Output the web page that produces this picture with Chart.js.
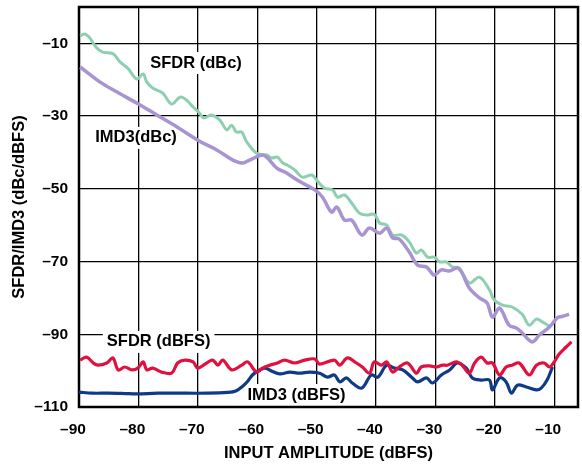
<!DOCTYPE html>
<html>
<head>
<meta charset="utf-8">
<script src="https://cdn.jsdelivr.net/npm/chart.js@4.4.0/dist/chart.umd.min.js"></script>
<style>
html, body { margin:0; padding:0; background:#fff; }
</style>
</head>
<body>
<canvas id="myChart" width="582" height="468"></canvas>
<script>
// axis ticks
const xTicks = [-90, -80, -70, -60, -50, -40, -30, -20, -10]
const yTicks = [-110, -90, -70, -50, -30, -10]

// SFDR (dBc)
const sfdrDbcX = [-89.8, -89.0, -88.2, -87.0, -86.0, -84.5, -84.0, -83.1, -81.8, -80.3,
  -79.2, -78.6, -77.6, -75.9, -74.4, -73.0, -71.9, -70.8, -69.7, -69.0,
  -67.7, -66.3, -65.1, -64.3, -63.5, -62.6, -61.8, -60.1, -58.4, -57.6,
  -56.6, -55.7, -54.9, -53.7, -52.4, -50.8, -50.0, -48.7, -47.3, -46.5,
  -45.3, -44.1, -42.8, -41.6, -40.3, -39.4, -38.2, -37.2, -35.7, -34.4,
  -33.2, -32.4, -31.3, -30.2, -29.3, -28.2, -27.1, -26.0, -24.3, -22.6,
  -20.9, -20.1, -18.7, -17.1, -15.4, -14.2, -13.0, -12.0, -10.6]
const sfdrDbcY = [-8.0, -7.4, -8.5, -11.3, -12.4, -12.7, -13.2, -15.1, -16.8, -19.8,
  -18.4, -20.6, -22.3, -23.7, -26.7, -24.8, -25.6, -27.5, -29.2, -30.5,
  -29.7, -31.1, -33.8, -32.5, -34.4, -34.4, -37.0, -40.2, -40.7, -41.5,
  -41.3, -42.9, -43.5, -44.8, -46.8, -46.2, -47.6, -49.8, -50.3, -52.3,
  -51.7, -53.9, -56.7, -57.2, -57.0, -59.4, -60.0, -62.7, -62.7, -64.6,
  -67.7, -66.8, -68.8, -68.8, -70.1, -70.1, -71.5, -71.8, -75.9, -74.3,
  -77.8, -80.6, -82.0, -82.5, -84.5, -87.5, -85.8, -86.6, -88.0]

// IMD3 (dBc)
const imdDbcX = [-89.8, -86.5, -83.6, -80.3, -76.9, -73.5, -69.7, -66.8, -64.1, -62.4,
  -61.3, -59.2, -58.4, -56.7, -55.0, -54.0, -52.4, -50.3, -49.0, -47.5,
  -46.6, -45.3, -44.1, -42.4, -41.1, -39.4, -38.2, -37.2, -36.1, -34.4,
  -33.0, -31.5, -30.2, -29.0, -27.7, -26.3, -25.5, -24.3, -22.6, -21.3,
  -20.4, -19.2, -17.6, -16.4, -15.6, -13.7, -12.5, -10.8, -9.5, -8.7, -7.5]
const imdDbcY = [-16.5, -20.6, -23.4, -26.4, -29.7, -33.0, -36.9, -39.3, -42.1, -42.9,
  -42.1, -40.7, -41.3, -44.3, -45.7, -46.8, -48.4, -50.3, -52.3, -56.4,
  -55.0, -58.6, -58.6, -62.7, -60.8, -62.2, -60.8, -63.5, -63.8, -67.4,
  -71.0, -71.5, -73.7, -72.3, -72.6, -71.8, -73.2, -77.3, -80.0, -81.4,
  -85.3, -82.8, -87.5, -88.3, -89.3, -92.1, -90.2, -88.0, -85.5, -85.1, -84.5]

// SFDR (dBFS)
const sfdrDbfsX = [-89.8, -88.7, -87.6, -86.8, -85.3, -84.3, -83.4, -82.3, -81.1, -80.1,
  -79.2, -78.6, -77.6, -76.1, -74.4, -73.4, -72.2, -70.8, -70.0, -68.5,
  -67.5, -66.6, -65.8, -64.3, -62.6, -61.6, -60.1, -59.1, -57.9, -56.6,
  -55.4, -53.7, -52.0, -50.3, -49.5, -47.0, -46.1, -44.8, -43.3, -42.3,
  -41.1, -40.3, -39.1, -38.2, -37.2, -36.1, -34.7, -33.2, -32.4, -31.0,
  -29.8, -28.8, -28.0, -26.5, -25.5, -24.3, -23.4, -22.3, -21.3, -20.4,
  -19.2, -18.1, -17.1, -15.9, -14.2, -13.0, -11.7, -10.8, -10.0, -9.2,
  -8.0, -7.1]
const sfdrDbfsY = [-97.1, -96.3, -97.9, -98.5, -97.9, -96.5, -99.8, -99.0, -99.8, -99.3,
  -97.6, -99.8, -99.3, -100.4, -100.7, -97.9, -97.1, -97.6, -99.3, -97.9,
  -97.1, -98.5, -97.1, -99.8, -98.5, -97.6, -100.4, -99.3, -98.5, -97.9,
  -97.1, -97.9, -97.1, -96.8, -98.2, -97.1, -98.5, -96.5, -97.9, -99.0,
  -100.7, -97.6, -98.5, -97.6, -100.4, -99.0, -97.9, -100.7, -99.0, -98.7,
  -99.0, -98.5, -98.5, -97.6, -98.5, -100.7, -97.9, -96.3, -97.9, -97.9,
  -101.2, -99.0, -98.5, -97.9, -101.2, -98.5, -97.9, -99.0, -97.6, -95.5,
  -93.5, -92.1]

// IMD3 (dBFS)
const imdDbfsX = [-90.0, -87.8, -85.1, -82.3, -80.3, -76.7, -73.9, -68.3, -65.0, -63.6,
  -62.4, -61.6, -60.8, -59.9, -58.7, -57.6, -56.2, -54.5, -52.9, -51.2,
  -49.5, -48.2, -47.0, -46.1, -45.0, -44.0, -42.4, -40.8, -39.7, -38.2,
  -36.9, -35.5, -34.0, -33.0, -31.5, -30.5, -29.0, -27.6, -26.3, -24.8,
  -23.8, -22.3, -20.9, -20.4, -19.2, -18.1, -17.2, -16.2, -14.7, -13.0,
  -12.2, -11.2, -10.3]
const imdDbfsY = [-105.9, -106.2, -106.2, -106.3, -106.4, -106.2, -106.2, -106.2, -106.0, -105.6,
  -104.2, -102.9, -101.2, -100.1, -99.3, -100.1, -100.9, -100.4, -100.7, -100.4,
  -100.7, -101.8, -101.2, -103.1, -102.0, -103.4, -104.8, -101.2, -101.8, -98.5,
  -99.3, -99.8, -101.8, -103.1, -102.0, -103.4, -101.2, -99.8, -97.9, -99.3,
  -102.0, -102.6, -102.6, -105.3, -102.0, -103.1, -106.2, -104.0, -104.5, -105.3,
  -104.8, -102.6, -99.0]

// curve names written on the plot, placed in data units
const notes = [
  { text: 'SFDR (dBc)', x: -70.3, y: -15.4 },
  { text: 'IMD3(dBc)', x: -80.4, y: -36.0 },
  { text: 'SFDR (dBFS)', x: -76.6, y: -92.1 },
  { text: 'IMD3 (dBFS)', x: -53.4, y: -106.7 }
]

const FONT = '"Liberation Sans", Arial, Helvetica, sans-serif'

function pairs(xs, ys){
  return xs.map(function(x, i){ return { x: x, y: ys[i] } })
}

function dash(v){
  return String(v).replace('-', '\u2013')
}

// white boxes behind the curve names, then the frame
const notePlugin = {
  id: 'notes',
  beforeDatasetsDraw(chart){
    const ctx = chart.ctx
    const xs = chart.scales.x, ys = chart.scales.y
    ctx.save()
    ctx.font = 'bold 16.5px ' + FONT
    ctx.textAlign = 'center'
    ctx.textBaseline = 'middle'
    notes.forEach(function(n){
      const px = xs.getPixelForValue(n.x)
      const py = ys.getPixelForValue(n.y)
      const w = ctx.measureText(n.text).width
      ctx.fillStyle = '#fff'
      ctx.fillRect(px - w / 2 - 4, py - 11, w + 8, 22)
      ctx.fillStyle = '#000'
      ctx.fillText(n.text, px, py)
    })
    const a = chart.chartArea
    ctx.lineWidth = 2.5
    ctx.strokeStyle = '#000'
    ctx.strokeRect(a.left, a.top, a.right - a.left, a.bottom - a.top)
    ctx.restore()
  }
}

const line = { pointRadius: 0, tension: 0.35, fill: false }

const data = {
  datasets: [
    Object.assign({ label: 'SFDR (dBc)', data: pairs(sfdrDbcX, sfdrDbcY), borderColor: '#8ecfb0', borderWidth: 3, order: 4 }, line),
    Object.assign({ label: 'IMD3 (dBc)', data: pairs(imdDbcX, imdDbcY), borderColor: '#a894d2', borderWidth: 3.5, order: 3 }, line),
    Object.assign({ label: 'IMD3 (dBFS)', data: pairs(imdDbfsX, imdDbfsY), borderColor: '#0e3b87', borderWidth: 3.2, order: 2 }, line),
    Object.assign({ label: 'SFDR (dBFS)', data: pairs(sfdrDbfsX, sfdrDbfsY), borderColor: '#e0103f', borderWidth: 3.2, order: 1 }, line)
  ]
}

const config = {
  type: 'line',
  data,
  options: {
    responsive: false,
    animation: false,
    layout: { padding: { top: 7, right: 4, left: 0, bottom: 0 } },
    plugins: { legend: { display: false }, tooltip: { enabled: false } },
    scales: {
      x: {
        type: 'linear',
        min: -90,
        max: -6,
        afterBuildTicks(scale){ scale.ticks = xTicks.map(function(v){ return { value: v } }) },
        afterFit(scale){
          scale.height = 61
          scale.paddingLeft = 0
          scale.paddingRight = 0
        },
        grid: { color: '#000', lineWidth: 1.3, drawTicks: false },
        border: { display: false },
        ticks: {
          color: '#000', padding: 13, labelOffset: -6,
          font: { family: FONT, size: 15.5, weight: 'bold' },
          callback: function(v){ return dash(v) }
        },
        title: {
          display: true, text: 'INPUT AMPLITUDE (dBFS)', color: '#000',
          font: { family: FONT, size: 16.5, weight: 'bold' },
          padding: { top: 0, bottom: 5 }
        }
      },
      y: {
        min: -110,
        max: 0,
        afterBuildTicks(scale){ scale.ticks = yTicks.map(function(v){ return { value: v } }) },
        afterFit(scale){
          scale.width = 79
          scale.paddingTop = 0
          scale.paddingBottom = 0
        },
        grid: { color: '#000', lineWidth: 1.3, drawTicks: false },
        border: { display: false },
        ticks: {
          color: '#000', padding: 11,
          font: { family: FONT, size: 15.5, weight: 'bold' },
          callback: function(v){ return dash(v) }
        },
        title: {
          display: true, text: 'SFDR/IMD3 (dBc/dBFS)', color: '#000',
          font: { family: FONT, size: 16.5, weight: 'bold' },
          padding: { top: 10, bottom: 0 }
        }
      }
    }
  },
  plugins: [notePlugin]
}

let myChart = new Chart(document.getElementById('myChart'), config)
</script>
</body>
</html>
